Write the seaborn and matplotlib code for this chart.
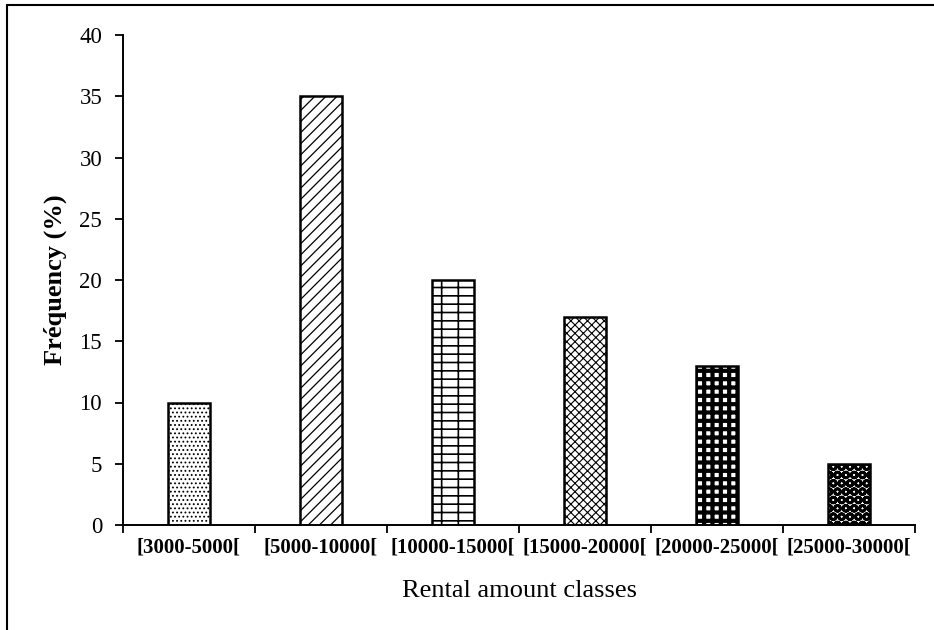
import matplotlib
matplotlib.use("Agg")
import matplotlib.pyplot as plt
import seaborn as sns
import pandas as pd
from matplotlib.lines import Line2D
from matplotlib.ticker import FixedLocator

categories = ["[3000-5000[", "[5000-10000[", "[10000-15000[",
              "[15000-20000[", "[20000-25000[", "[25000-30000["]
frequency = [10, 35, 20, 17, 13, 5]
y_ticks = [0, 5, 10, 15, 20, 25, 30, 35, 40]

hatches = ["....", "///", "+-", "xxxx", "||--", "OO"]
hatch_lw = [0.8, 0.9, 1.2, 0.8, 3.0, 2.0]

sns.set_theme(style="white")
plt.rcParams["font.family"] = ["Liberation Serif", "DejaVu Serif"]
plt.rcParams["hatch.color"] = "black"

df = pd.DataFrame({"cls": categories, "freq": frequency})

fig = plt.figure(figsize=(9.34, 6.3), dpi=100)
ax = fig.add_axes([123 / 934, 1 - 525 / 630, (915 - 123) / 934, (525 - 35) / 630])

sns.barplot(data=df, x="cls", y="freq", color="white", edgecolor="black",
            linewidth=1.8, width=0.32, saturation=1, ax=ax)

for i, p in enumerate(ax.patches):
    p.set_hatch(hatches[i])
    p.set_facecolor("white")
    p.set_edgecolor("black")
    if hasattr(p, "set_hatch_linewidth"):
        p.set_hatch_linewidth(hatch_lw[i])

ax.set_ylim(0, 40)
ax.set_xlim(-0.5, len(categories) - 0.5)
ax.set_yticks(y_ticks)
ax.set_yticklabels([str(t) for t in y_ticks], fontsize=16.5)
ax.set_xticks(range(len(categories)))
ax.set_xticklabels(categories, fontsize=15, fontweight="bold")
ax.xaxis.set_minor_locator(FixedLocator([i - 0.5 for i in range(len(categories) + 1)]))

ax.tick_params(axis="x", which="major", length=0, pad=9, colors="black")
ax.tick_params(axis="x", which="minor", length=6, width=1.3, direction="out", bottom=True, color="black")
ax.tick_params(axis="y", which="major", length=6, width=1.3, direction="out", left=True, pad=9, colors="black")

for s in ["top", "right"]:
    ax.spines[s].set_visible(False)
for s in ["left", "bottom"]:
    ax.spines[s].set_color("black")
    ax.spines[s].set_linewidth(1.4)

ax.set_xlabel("Rental amount classes", fontsize=19, labelpad=16, color="black")
ax.set_ylabel("Fréquency (%)", fontsize=19, fontweight="bold", labelpad=9, color="black")
ax.grid(False)

# figure border (left and top edges)
fig.add_artist(Line2D([7 / 934, 7 / 934], [0, 1 - 5 / 630], transform=fig.transFigure,
                      color="black", linewidth=1.5))
fig.add_artist(Line2D([7 / 934, 1], [1 - 5 / 630, 1 - 5 / 630], transform=fig.transFigure,
                      color="black", linewidth=1.5))

fig.savefig("out.png", dpi=100)
